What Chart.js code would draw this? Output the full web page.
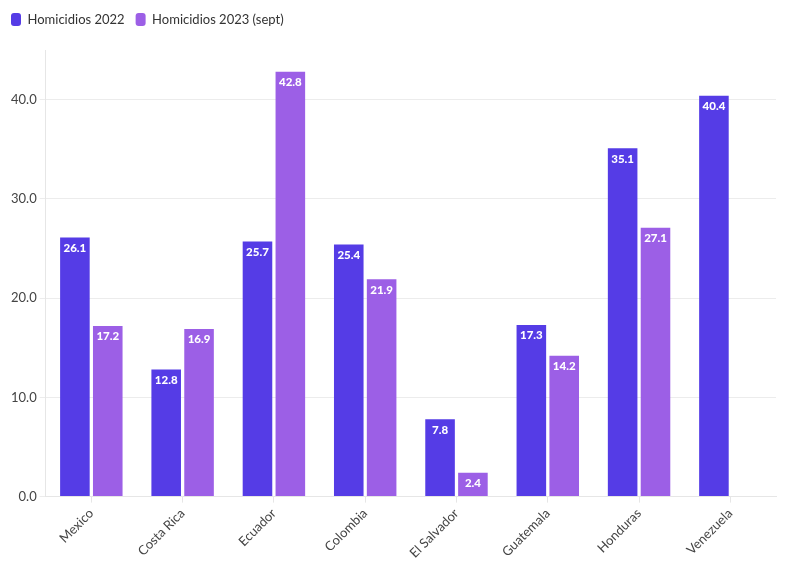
<!DOCTYPE html>
<html><head><meta charset="utf-8">
<script src="https://cdn.jsdelivr.net/npm/chart.js@4/dist/chart.umd.min.js"></script>
<style>html,body{margin:0;padding:0;background:#fff}#wrap{width:796px;height:575px}</style>
</head><body><div id="wrap"><canvas id="c" width="796" height="575"></canvas></div>
<script>
const categories = ["Mexico","Costa Rica","Ecuador","Colombia","El Salvador","Guatemala","Honduras","Venezuela"];
const homicidios2022 = [26.1,12.8,25.7,25.4,7.8,17.3,35.1,40.4];
const homicidios2023 = [17.2,16.9,42.8,21.9,2.4,14.2,27.1,null];
const seriesNames = ["Homicidios 2022","Homicidios 2023 (sept)"];

const FONT = "Lato, 'Noto Sans', sans-serif";
const labelPlugin = {
  id:'barLabels',
  afterDatasetsDraw(chart){
    const ctx = chart.ctx;
    ctx.save();
    ctx.font = "900 11.5px " + FONT;
    ctx.fillStyle = '#fff';
    ctx.textAlign = 'center';
    ctx.textBaseline = 'top';
    chart.data.datasets.forEach((ds,i)=>{
      const meta = chart.getDatasetMeta(i);
      meta.data.forEach((bar,j)=>{
        const v = ds.data[j];
        if(v==null) return;
        ctx.fillText(v.toFixed(1), bar.x, bar.y+5);
      });
    });
    ctx.restore();
  }
};

new Chart(document.getElementById('c'),{
  type:'bar',
  data:{labels:categories,datasets:[
    {label:seriesNames[0],data:homicidios2022,backgroundColor:'#553ce6',borderWidth:0},
    {label:seriesNames[1],data:homicidios2023,backgroundColor:'#9c5fe6',borderWidth:0}
  ]},
  options:{
    responsive:false,animation:false,
    categoryPercentage:0.72,barPercentage:0.9,
    layout:{padding:{left:0,right:20,top:2,bottom:11}},
    plugins:{
      legend:{position:'top',align:'start',labels:{boxWidth:10,boxHeight:13,useBorderRadius:true,borderRadius:3,padding:11,color:'#333',font:{family:FONT,size:13}}},
      tooltip:{enabled:false}
    },
    scales:{
      x:{grid:{offset:false,drawOnChartArea:false,color:'#e6e6e6',tickLength:6},border:{color:'#e6e6e6'},
         ticks:{maxRotation:45,minRotation:45,color:'#444',font:{family:FONT,size:13}}},
      y:{min:0,max:45,grid:{color:c=>c.tick && c.tick.value===45?'rgba(0,0,0,0)':'#ececec',tickLength:6},border:{color:'#e6e6e6'},
         afterFit(s){s.width+=8;},
         ticks:{stepSize:10,color:'#444',font:{family:FONT,size:13},callback:v=>v===45?'':v.toFixed(1)}}
    }
  },
  plugins:[labelPlugin,{id:'legendGap',beforeInit(chart){const f=chart.legend.fit;chart.legend.fit=function(){f.bind(chart.legend)();this.height+=14;};}}]
});
</script></body></html>
